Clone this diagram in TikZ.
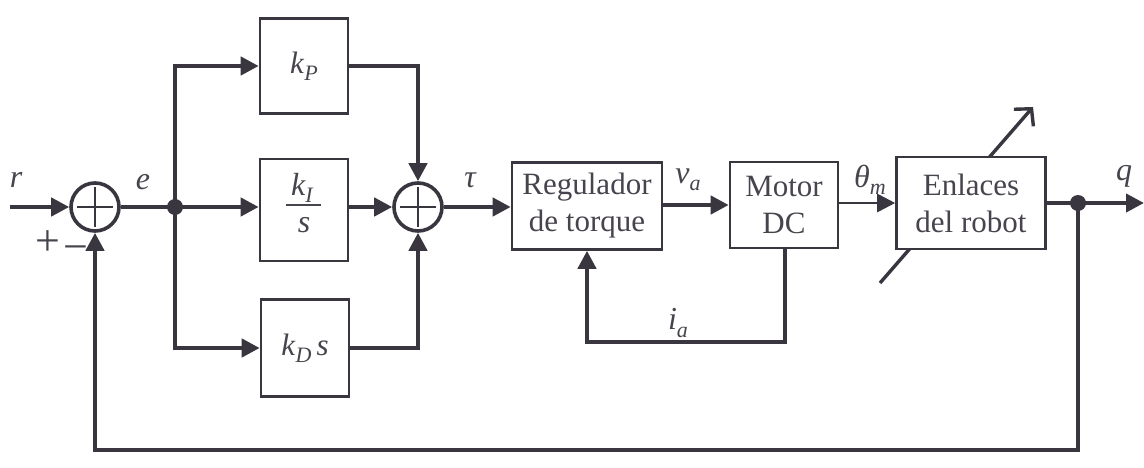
\documentclass[tikz,border=0pt]{standalone}
\usepackage{fontspec}
\setmainfont{Liberation Serif}
\usetikzlibrary{arrows.meta}
\definecolor{ink}{RGB}{58,54,64}
\definecolor{txt}{RGB}{72,68,78}
\newcommand{\mi}[1]{\textit{#1}}
\newcommand{\sub}[1]{\raisebox{-0.22em}{\fontsize{22}{22}\selectfont\itshape #1}}
\begin{document}
\begin{tikzpicture}[x=1pt,y=-1pt,
  conn/.style={draw=ink,line width=4.2pt,-{Triangle[length=18pt,width=18pt]}},
  wire/.style={draw=ink,line width=4.2pt},
  blk/.style={draw=ink,line width=2.6pt,fill=white,text=txt,font=\fontsize{31}{37}\selectfont,align=center,inner sep=0pt},
  sumnode/.style={circle,draw=ink,line width=3.6pt,fill=white,minimum size=48pt,inner sep=0pt,
    path picture={\draw[ink,line width=2pt]
      ([xshift=-18pt]path picture bounding box.center) -- ([xshift=18pt]path picture bounding box.center)
      ([yshift=-20pt]path picture bounding box.center) -- ([yshift=20pt]path picture bounding box.center);}},
  lbl/.style={text=txt,font=\fontsize{32}{36}\selectfont\itshape,inner sep=0pt},
  sign/.style={text=txt,font=\fontsize{44}{46}\selectfont,inner sep=0pt}
]
\useasboundingbox (0,0) rectangle (1144,468);
\fill[white] (0,0) rectangle (1144,468);

% variable-parameter arrow through the robot links block
\coordinate (vb) at (880,283);
\coordinate (vt) at (1033,107);
\draw[ink,line width=3.4pt,-{Straight Barb[length=12pt,width=26pt]}] (vb) -- (vt);

% blocks
\node[sumnode] (s1) at (95,207) {};
\coordinate (j1) at (175,207);
\node[blk,minimum width=88pt,minimum height=95pt] (kp) at (304,66) {\mi{k}\sub{P}};
\node[blk,minimum width=88pt,minimum height=102pt] (ki) at (304,210) {};
\node[lbl] (kiK) at (302,188) {k\sub{I}};
\draw[txt,line width=1.5pt] (286,205) -- (321,205);
\node[lbl] (kiS) at (304,225) {s};
\node[blk,minimum width=88pt,minimum height=97pt] (kd) at (305,348) {\mi{k}\sub{D}\,\mi{s}};
\node[sumnode] (s2) at (418,207) {};
\node[blk,minimum width=150pt,minimum height=87pt] (reg) at (587,206) {Regulador\\de torque};
\node[blk,minimum width=108pt,minimum height=86pt] (mot) at (784,205) {Motor\\DC};
\node[blk,minimum width=149pt,minimum height=92pt] (enl) at (971,203) {Enlaces\\del robot};
\coordinate (j2) at (1078,203);
\coordinate (rin) at (10,207);
\coordinate (qout) at (1144,203);
\coordinate (fb1) at (1078,450);
\coordinate (ia1) at (785,342);

% connectors
\draw[conn] (rin) -- (s1);
\draw[wire] (s1) -- (j1);
\draw[conn] (j1) -- (j1 -| ki.west);
\draw[conn] (j1) |- (kp.west);
\draw[conn] (j1) |- (kd.west);
\draw[conn] (ki.east |- s2) -- (s2);
\draw[conn] (kp.east) -| (s2);
\draw[conn] (kd.east) -| (s2);
\draw[conn] (s2.east) -- (s2.east -| reg.west);
\draw[conn] (reg.east |- mot.west) -- (mot.west);
\draw[conn,line width=2.8pt] (mot.east |- enl.west) -- (enl.west);
\draw[conn] (mot.south -| ia1) -- (ia1) -| (reg.south);
\draw[conn] (enl.east) -- (qout);
\draw[conn] (j2) -- (fb1) -| (s1);
\fill[ink] (j1) circle (8pt);
\fill[ink] (j2) circle (8pt);

% labels
\node[lbl] (lr) at (16,180) {r};
\node[lbl] (le) at (143,182) {e};
\node[lbl] (ltau) at (470,180) {τ};
\node[lbl] (lva) at (688,180) {v\sub{a}};
\node[lbl] (lth) at (870,180) {θ\sub{m}};
\node[lbl] (lia) at (678,323) {i\sub{a}};
\node[lbl] (lq) at (1124,176) {q};
\node[sign] (lplus) at (48,243) {+};
\node[sign] (lminus) at (76,254) {−};
\end{tikzpicture}
\end{document}
